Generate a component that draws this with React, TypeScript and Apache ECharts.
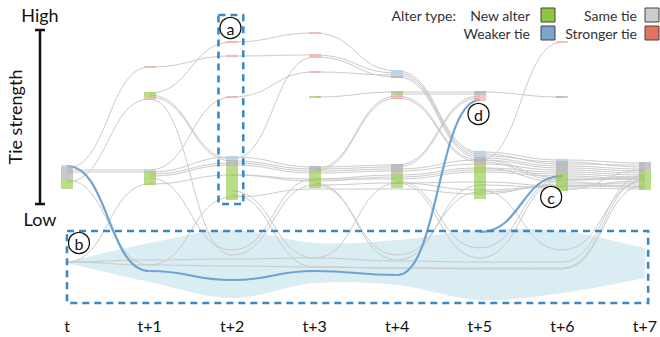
import React, { useEffect, useRef } from 'react';
import * as echarts from 'echarts';

// x: time steps
const timeLabels = ['t', 't+1', 't+2', 't+3', 't+4', 't+5', 't+6', 't+7'];

// band of dropped alters (tie-strength units): top and bottom edge at each step
const bandTop = [-57, -38, -25, -38, -35, -25, -26, -43];
const bandBottom = [-58, -77, -93, -78, -80, -95, -88, -73];

// alter stacks: [time, strength of top tick, alter types top->bottom]
// B = weaker tie, G = same tie, N = new alter, S = stronger tie
const stacks: [number, number, string][] = [
  [0, 39, 'BGGGGGGNNNNN'],
  [1, 138, 'S'],
  [1, 112, 'NNNS'],
  [1, 35, 'BNNNNNNN'],
  [2, 163, 'S'],
  [2, 149, 'S'],
  [2, 108, 'S'],
  [2, 48, 'BBGGGNNNNNNNNNNNNNNNNN'],
  [3, 172, 'S'],
  [3, 150, 'SS'],
  [3, 133, 'S'],
  [3, 108, 'N'],
  [3, 38, 'GGGNNNNNNNN'],
  [4, 134, 'BBBG'],
  [4, 113, 'GNSS'],
  [4, 40, 'GGGGGNNNNNNN'],
  [5, 113, 'GGSSS'],
  [5, 53, 'BBBGGGNNNNNNNNNNNNNNNNNN'],
  [6, 163, 'S'],
  [6, 108, 'G'],
  [6, 45, 'BGGGGGGNNNNNNNNN'],
  [7, 42, 'GGGGGNNNNNNNNN'],
];

// alter trajectories: [start time, strength at start, strength at next step, ...]
const links: number[][] = [
  [0, 37, 138, 149, 150, 132, 51, 41, 40],
  [0, 23, 106, -50, 20, 22, 15, 19, 20],
  [1, 112, 163, 172, 134, 53, 45, 42],
  [0, 35, 35, 108, 133, 130, 49, 43, 38],
  [0, 33, 33, 48, 38, 40, 109],
  [1, 110, 46, 148, 128, 47, 39, 36],
  [1, 108, 44, 36, 38, 107],
  [1, 31, 42, 34, 36, 45, 37, 34],
  [1, 29, 40, 32, 34, 41, 35, 32],
  [1, 27, -45, 26, 30, 37, 33, 30],
  [0, -57, 21, 30, 24, 28, 35, 31, 28],
  [3, 108, 113, 113, 108],
  [3, 36, 109, 45, 27],
  [3, 34, 107, 43, 25, 26],
  [4, 111, 111],
  [0, 25, -60, 8, 16, 16, 11, 21, 22],
  [2, 14, -53, 22, 23, 19, 24],
  [3, 22, -55, 20, 17, 16],
  [3, 20, -50, 13, 19, 18],
  [4, 24, -43, 27, 26],
  [4, 22, -53, 25, 28],
  [5, 15, -45, 24],
  [5, 45, 163],
  [0, -57, -55, -54, -53, -56, -57, -57, 30],
  [0, -57, -60, -61, -62, -63, -63, -63, 26],
  [2, 10, -62, -63, -64, -64, 20],
  [2, 30, 26, 26, 33, 29, 26],
  [5, 37, 23, 18],
  [6, 15, 35],
];

// highlighted trajectories
const highlights: number[][] = [
  [0, 39, -66, -75, -66, -70, 105],
  [5, -27, 29],
];

// dashed annotation boxes: [x0, s0, x1, s1]
const boxes: number[][] = [
  [1.835, 190, 2.135, 1],
  [0, -26, 7.04, -98],
];
// circled labels: [x, s]
const markerNames = ['a', 'b', 'c', 'd'];
const markerPos: number[][] = [
  [1.98, 177],
  [0.145, -38],
  [5.865, 8],
  [4.985, 91],
];

const tickColor: Record<string, string> = {
  B: '#a6c8e6',
  G: '#a3a3a3',
  N: '#8cc63c',
  S: '#f5a199',
};

const FONT = 'Lato';

function curveChildren(path: number[], api: any, stroke: string, width: number) {
  const t0 = path[0];
  const pts = path.slice(1).map((v, i) => api.coord([t0 + i, v]));
  const children: any[] = [];
  for (let i = 0; i < pts.length - 1; i++) {
    const [x1, y1] = pts[i];
    const [x2, y2] = pts[i + 1];
    const mx = (x1 + x2) / 2;
    children.push({
      type: 'bezierCurve',
      shape: { x1, y1, x2, y2, cpx1: mx, cpy1: y1, cpx2: mx, cpy2: y2 },
      style: { stroke, lineWidth: width, fill: 'none' },
    });
  }
  return children;
}

// Catmull-Rom spline through points as SVG path commands (without the initial M)
function splineSegs(pts: number[][]) {
  let d = '';
  for (let i = 0; i < pts.length - 1; i++) {
    const p0 = pts[Math.max(0, i - 1)];
    const p1 = pts[i];
    const p2 = pts[i + 1];
    const p3 = pts[Math.min(pts.length - 1, i + 2)];
    const c1x = p1[0] + (p2[0] - p0[0]) / 6;
    const c1y = p1[1] + (p2[1] - p0[1]) / 6;
    const c2x = p2[0] - (p3[0] - p1[0]) / 6;
    const c2y = p2[1] - (p3[1] - p1[1]) / 6;
    d += ` C${c1x},${c1y} ${c2x},${c2y} ${p2[0]},${p2[1]}`;
  }
  return d;
}

export default function App() {
  const ref = useRef<HTMLDivElement>(null);
  useEffect(() => {
    document.body.style.margin = '0';
    const chart = echarts.init(ref.current!, null, { renderer: 'svg' });
    const legendItems = [
      { text: 'New alter', color: '#8dc641', tx: 530, ty: 15, sx: 541, sy: 8 },
      { text: 'Same tie', color: '#cccccc', tx: 637, ty: 15, sx: 645, sy: 8 },
      { text: 'Weaker tie', color: '#7aa6c9', tx: 530, ty: 33, sx: 541, sy: 26 },
      { text: 'Stronger tie', color: '#e2735f', tx: 637, ty: 33, sx: 645, sy: 26 },
    ];
    const graphic: any[] = [
      { type: 'text', x: 456, y: 15, style: { text: 'Alter type:', font: `14px ${FONT}`, fill: '#333', align: 'right', verticalAlign: 'middle' } },
      ...legendItems.flatMap((l) => [
        { type: 'text', x: l.tx, y: l.ty, style: { text: l.text, font: `14px ${FONT}`, fill: '#333', align: 'right', verticalAlign: 'middle' } },
        { type: 'rect', shape: { x: l.sx, y: l.sy, width: 14, height: 14 }, style: { fill: l.color, stroke: '#444', lineWidth: 1 } },
      ]),
      { type: 'text', x: 40, y: 15, style: { text: 'High', font: `18px ${FONT}`, fill: '#111', align: 'center', verticalAlign: 'middle' } },
      { type: 'text', x: 40, y: 219, style: { text: 'Low', font: `18px ${FONT}`, fill: '#111', align: 'center', verticalAlign: 'middle' } },
      { type: 'line', shape: { x1: 40, y1: 30, x2: 40, y2: 204 }, style: { stroke: '#111', lineWidth: 2.5 } },
      { type: 'line', shape: { x1: 35, y1: 30, x2: 45, y2: 30 }, style: { stroke: '#111', lineWidth: 2.5 } },
      { type: 'line', shape: { x1: 35, y1: 204, x2: 45, y2: 204 }, style: { stroke: '#111', lineWidth: 2.5 } },
      { type: 'text', x: 15, y: 117, rotation: Math.PI / 2, style: { text: 'Tie strength', font: `18px ${FONT}`, fill: '#111', align: 'center', verticalAlign: 'middle' } },
    ];

    chart.setOption({
      animation: false,
      grid: { left: 67, right: 13, top: 30, bottom: 27 },
      xAxis: {
        type: 'value', min: 0, max: 7, interval: 1,
        axisLine: { show: false, onZero: false }, axisTick: { show: false }, splitLine: { show: false },
        axisLabel: { margin: 7, fontFamily: FONT, fontSize: 16, color: '#111', formatter: (v: number) => timeLabels[v] ?? '' },
      },
      yAxis: { type: 'value', min: -105, max: 175, show: false },
      graphic,
      series: [
        {
          type: 'custom', silent: true, z: 1,
          data: [[0, bandTop[0]]],
          encode: { x: 0, y: 1 },
          renderItem: (_params: any, api: any) => {
            const top = bandTop.map((v, i) => api.coord([i, v]));
            const bot = bandBottom.map((v, i) => api.coord([i, v])).reverse();
            const d = `M${top[0][0]},${top[0][1]}` + splineSegs(top) +
              ` L${bot[0][0]},${bot[0][1]}` + splineSegs(bot) + ' Z';
            return { type: 'path', shape: { pathData: d }, style: { fill: '#d9edf3', stroke: 'none' } };
          },
        },
        {
          type: 'custom', silent: true, z: 2,
          data: links.map((p) => [p[0], p[1]]),
          encode: { x: 0, y: 1 },
          renderItem: (params: any, api: any) => ({
            type: 'group', children: curveChildren(links[params.dataIndex], api, '#cacaca', 1),
          }),
        },
        {
          type: 'custom', silent: true, z: 4,
          data: highlights.map((p) => [p[0], p[1]]),
          encode: { x: 0, y: 1 },
          renderItem: (params: any, api: any) => ({
            type: 'group', children: curveChildren(highlights[params.dataIndex], api, '#6fa3d0', 2.2),
          }),
        },
        {
          type: 'custom', silent: true, z: 8,
          data: stacks.map((s) => [s[0], s[1]]),
          encode: { x: 0, y: 1 },
          renderItem: (params: any, api: any) => {
            const [t, top, types] = stacks[params.dataIndex];
            const children = types.split('').map((c, i) => {
              const [x, y0] = api.coord([t, top - 2 * i]);
              const y = Math.round(y0);
              return {
                type: 'rect',
                z2: 20,
                shape: { x: Math.round(x) - 6, y: y - 0.6, width: 12, height: 1.2 },
                style: { fill: tickColor[c], stroke: 'none' },
              };
            });
            return { type: 'group', children };
          },
        },
        {
          type: 'custom', silent: true, z: 9,
          data: boxes.map((b) => [b[0], b[1]]),
          encode: { x: 0, y: 1 },
          renderItem: (params: any, api: any) => {
            const [x0, s0, x1, s1] = boxes[params.dataIndex];
            const a = api.coord([x0, s0]);
            const b = api.coord([x1, s1]);
            return {
              type: 'rect',
              shape: { x: a[0], y: a[1], width: b[0] - a[0], height: b[1] - a[1] },
              style: { fill: 'none', stroke: '#3c88c6', lineWidth: 2.6, lineDash: [7, 5] },
            };
          },
        },
        {
          type: 'custom', silent: true, z: 10,
          data: markerPos.map((m) => [m[0], m[1]]),
          encode: { x: 0, y: 1 },
          renderItem: (params: any, api: any) => {
            const [x, y] = api.coord(markerPos[params.dataIndex]);
            return {
              type: 'group',
              children: [
                { type: 'circle', shape: { cx: x, cy: y, r: 10.5 }, style: { fill: '#fff', stroke: '#111', lineWidth: 1.3 } },
                { type: 'text', x, y, style: { text: markerNames[params.dataIndex], font: `16px ${FONT}`, fill: '#111', align: 'center', verticalAlign: 'middle' } },
              ],
            };
          },
        },
      ],
    });
    return () => chart.dispose();
  }, []);
  return <div ref={ref} style={{ width: 660, height: 337 }} />;
}
